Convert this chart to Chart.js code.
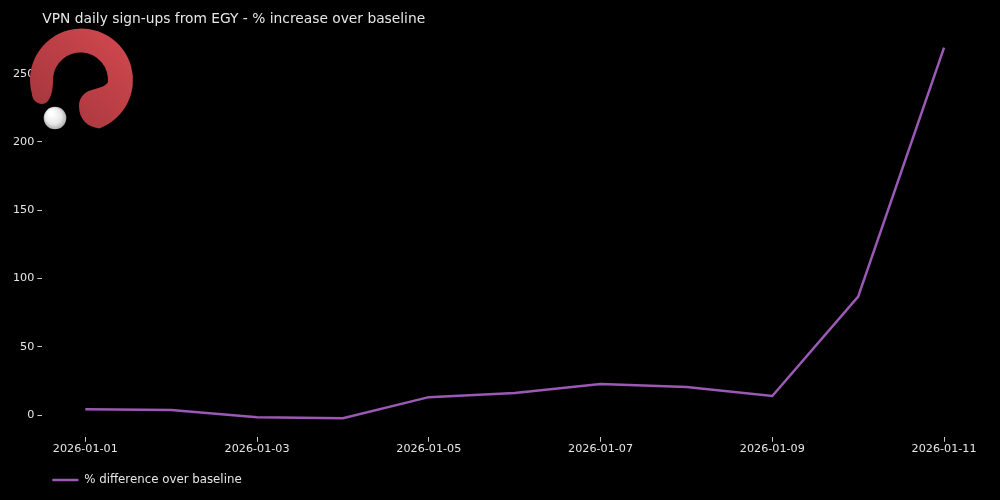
<!DOCTYPE html>
<html>
<head>
<meta charset="utf-8">
<script src="https://cdn.jsdelivr.net/npm/chart.js@4.4.1/dist/chart.umd.min.js"></script>
<style>
  html, body { margin: 0; padding: 0; background: #000; }
  #wrap { width: 1000px; height: 500px; }
</style>
</head>
<body>
<div id="wrap"><canvas id="chart-area" width="1000" height="500"></canvas></div>
<script>
// data
var dates = ["2026-01-01", "2026-01-02", "2026-01-03", "2026-01-04", "2026-01-05", "2026-01-06",
             "2026-01-07", "2026-01-08", "2026-01-09", "2026-01-10", "2026-01-11"];
var pctIncrease = [4.4, 3.7, -1.5, -2.2, 13.2, 16.2, 22.8, 20.6, 14.0, 86.8, 269.0];
var yTicks = [0, 50, 100, 150, 200, 250];
var xTickIdx = [0, 2, 4, 6, 8, 10];

var lineColor = "#9b59b6";
var textColor = "#e6e6e6";

Chart.defaults.font.family = "'DejaVu Sans', sans-serif";
Chart.defaults.color = textColor;

function rad(d) { return d * Math.PI / 180; }

// logo drawn on top of the chart, like the watermark in the original
var logoPlugin = {
    id: "logo",
    afterDraw: function(chart) {
        var ctx = chart.ctx;
        ctx.save();
        var grad = ctx.createLinearGradient(125, 35, 40, 125);
        grad.addColorStop(0, "#d1474f");
        grad.addColorStop(1, "#a3363b");
        ctx.fillStyle = grad;
        ctx.beginPath();
        ctx.arc(81.5, 80, 51.5, rad(165), rad(430));
        ctx.bezierCurveTo(88, 127, 79, 120, 79, 106);
        ctx.bezierCurveTo(79, 96, 86, 91, 95, 89);
        ctx.bezierCurveTo(102, 87, 107, 85, 108, 82);
        ctx.arc(80.5, 80, 27.5, rad(5), rad(180), true);
        ctx.bezierCurveTo(53, 92, 50, 104, 42, 104);
        ctx.bezierCurveTo(36, 104, 32, 99, 31.8, 93.3);
        ctx.closePath();
        ctx.fill();

        var ball = ctx.createRadialGradient(51, 113, 2, 55, 118, 12);
        ball.addColorStop(0, "#ffffff");
        ball.addColorStop(0.6, "#e8e8e8");
        ball.addColorStop(1, "#a8a8a8");
        ctx.fillStyle = ball;
        ctx.beginPath();
        ctx.arc(55, 118, 11.3, 0, Math.PI * 2);
        ctx.fill();
        ctx.restore();
    }
};

var config = {
    type: 'line',
    data: {
        datasets: [{
            label: "% difference over baseline",
            data: pctIncrease.map(function(v, i) { return { x: i, y: v }; }),
            borderColor: lineColor,
            backgroundColor: lineColor,
            borderWidth: 2.5,
            pointRadius: 0,
            tension: 0
        }]
    },
    options: {
        responsive: false,
        animation: false,
        layout: { padding: { left: 10, right: 13, top: 0, bottom: 4 } },
        scales: {
            x: {
                type: 'linear',
                min: -0.5,
                max: dates.length - 0.5,
                afterBuildTicks: function(scale) {
                    scale.ticks = xTickIdx.map(function(v) { return { value: v }; });
                },
                afterFit: function(scale) { scale.height = scale.height + 7; },
                ticks: {
                    color: textColor,
                    font: { size: 11.2 },
                    maxRotation: 0,
                    padding: 1,
                    callback: function(v) { return dates[v]; }
                },
                grid: { drawOnChartArea: false, drawTicks: true, tickLength: 5, color: "#cccccc" },
                border: { display: false }
            },
            y: {
                min: -15.8,
                max: 282.6,
                afterBuildTicks: function(scale) {
                    scale.ticks = yTicks.map(function(v) { return { value: v }; });
                },
                ticks: { color: textColor, font: { size: 11.2 }, padding: 3 },
                grid: { drawOnChartArea: false, drawTicks: true, tickLength: 5, color: "#cccccc" },
                border: { display: false }
            }
        },
        plugins: {
            title: {
                display: true,
                text: "VPN daily sign-ups from EGY - % increase over baseline",
                align: 'start',
                fullSize: false,
                color: textColor,
                font: { size: 13.8, weight: 'normal' },
                padding: { top: 11, bottom: 1.5 }
            },
            legend: {
                position: 'bottom',
                align: 'start',
                fullSize: false,
                labels: {
                    usePointStyle: true,
                    pointStyle: 'line',
                    pointStyleWidth: 26,
                    color: textColor,
                    font: { size: 11.8 },
                    padding: 10
                }
            },
            tooltip: { enabled: false }
        }
    },
    plugins: [logoPlugin]
};

window.onload = function() {
    var ctx = document.getElementById("chart-area").getContext("2d");
    window.myLine = new Chart(ctx, config);
};
</script>
</body>
</html>
